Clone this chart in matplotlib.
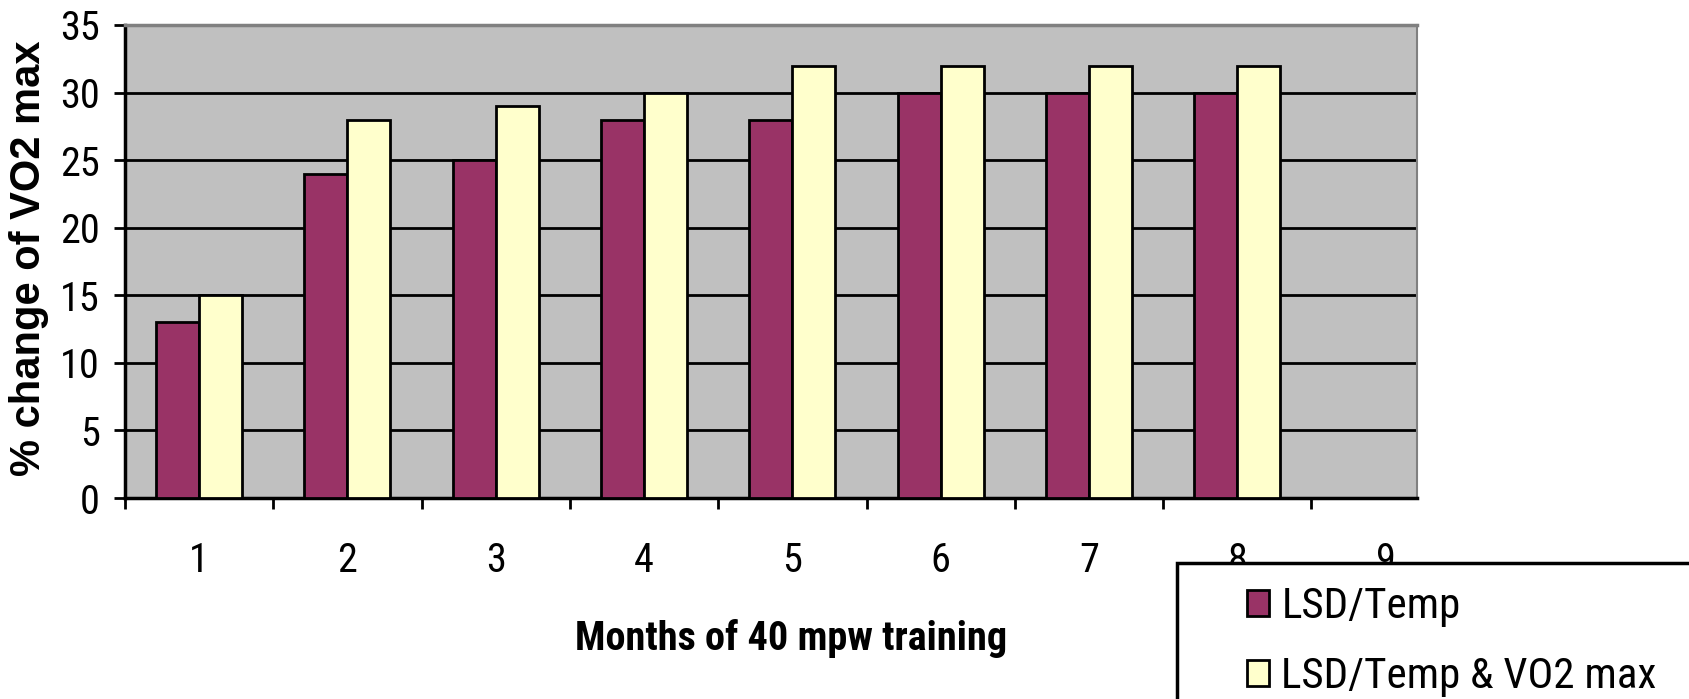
import matplotlib
matplotlib.use("Agg")
import matplotlib.pyplot as plt
from matplotlib.patches import Rectangle, Patch
import numpy as np

# data
months = [1, 2, 3, 4, 5, 6, 7, 8, 9]
lsd_temp = [13, 24, 25, 28, 28, 30, 30, 30, np.nan]
lsd_temp_vo2 = [15, 28, 29, 30, 32, 32, 32, 32, np.nan]
series_names = ["LSD/Temp", "LSD/Temp & VO2 max"]
y_ticks = [0, 5, 10, 15, 20, 25, 30, 35]

W, H = 1690, 699
# narrow face stands in for Arial Narrow look of the original
narrow = ["Roboto Condensed", "Liberation Sans", "DejaVu Sans"]
plt.rcParams["font.family"] = narrow

fig = plt.figure(figsize=(W / 100, H / 100), dpi=100)
ax = fig.add_axes([125 / W, 1 - 498 / H, (1417 - 125) / W, (498 - 25) / H])
ax.set_facecolor("#C0C0C0")

x = np.array(months, dtype=float)
bw = 0.29
ax.bar(x - bw / 2, lsd_temp, bw, color="#993366", edgecolor="black",
       linewidth=2, zorder=3)
ax.bar(x + bw / 2, lsd_temp_vo2, bw, color="#FFFFCC", edgecolor="black",
       linewidth=2, zorder=3)

# axes limits, grid
ax.set_xlim(0.5, 0.5 + (1417 - 125) / 148.3)
ax.set_ylim(0, 35)
ax.set_yticks(y_ticks)
ax.yaxis.grid(True, color="black", linewidth=2, zorder=1)
ax.set_axisbelow(True)

ax.set_xticks(months)
ax.set_xticks(np.arange(0.5, 9.5, 1.0), minor=True)
ax.tick_params(axis="x", which="major", length=0, pad=31, labelsize=29)
ax.tick_params(axis="x", which="minor", length=8, width=2, direction="out")
ax.tick_params(axis="y", length=8, width=2, pad=10, labelsize=29)

for s in ["left", "bottom"]:
    ax.spines[s].set_linewidth(2.5)
    ax.spines[s].set_color("black")
ax.spines["top"].set_color("#808080")
ax.spines["top"].set_linewidth(2.5)
ax.spines["right"].set_color("#808080")
ax.spines["right"].set_linewidth(1.5)

# axis titles
fig.text(29 / W, 1 - 258 / H, "% change of VO2 max", rotation=90,
         ha="center", va="center", fontsize=30, fontweight="bold",
         family=["Liberation Sans", "DejaVu Sans"])
fig.text(791 / W, 1 - 650 / H, "Months of 40 mpw training", ha="center",
         va="baseline", fontsize=29, fontweight="bold")

# legend box running off the figure edge
fig.patches.append(Rectangle((1177 / W, -0.1), 0.5, (1 - 563 / H) + 0.1,
                             transform=fig.transFigure, facecolor="white",
                             edgecolor="black", linewidth=2.5, zorder=4))
handles = [Patch(facecolor="#993366", edgecolor="black", linewidth=2),
           Patch(facecolor="#FFFFCC", edgecolor="black", linewidth=2)]
fig.legend(handles, series_names, loc="upper left",
           bbox_to_anchor=(1247 / W, 1 - 586 / H), frameon=False,
           borderpad=0, borderaxespad=0, fontsize=31, handlelength=0.5,
           handleheight=0.55, handletextpad=0.3, labelspacing=0.68)

fig.savefig("out.png", dpi=100)
